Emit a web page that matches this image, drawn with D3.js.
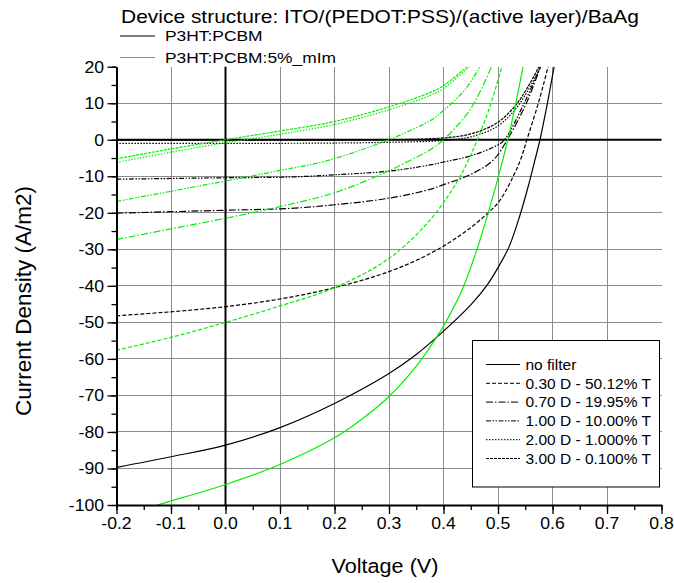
<!DOCTYPE html>
<html>
<head>
<meta charset="utf-8">
<script src="https://cdn.jsdelivr.net/npm/d3@7"></script>
<style>
  body { margin: 0; background: #fff; }
  text { font-family: Arial, "Liberation Sans", sans-serif; fill: #000; }
</style>
</head>
<body>
<svg id="chart" width="674" height="583"></svg>
<script>
// ---- data: J–V curves, voltage (V) vs current density (A/m2) ----
const voltageTicks = [-0.2, -0.1, 0, 0.1, 0.2, 0.3, 0.4, 0.5, 0.6, 0.7, 0.8];
const currentTicks = [-100, -90, -80, -70, -60, -50, -40, -30, -20, -10, 0, 10, 20];

const filterLabels = [
  "no filter",
  "0.30 D - 50.12% T",
  "0.70 D - 19.95% T",
  "1.00 D - 10.00% T",
  "2.00 D - 1.000% T",
  "3.00 D - 0.100% T"
];
const materialLabels = ["P3HT:PCBM", "P3HT:PCBM:5%_mIm"];

// P3HT:PCBM
const pcbmNoFilter = [[-0.2,-89.7],[-0.1,-86.8],[0,-83.6],[0.1,-78.8],[0.2,-72.2],[0.3,-64],[0.35,-58.8],[0.4,-52.4],[0.45,-45.2],[0.48,-39.8],[0.5,-35],[0.52,-29.4],[0.54,-20.8],[0.555,-13],[0.567,-6],[0.577,0],[0.59,9.5],[0.603,20]];
const pcbm030 = [[-0.2,-48.2],[-0.1,-47.1],[0,-45.7],[0.1,-43.6],[0.2,-40.5],[0.3,-36.1],[0.375,-31.2],[0.436,-25.6],[0.482,-20],[0.504,-16.5],[0.528,-10],[0.542,-5.2],[0.553,0],[0.574,10],[0.592,20]];
const pcbm070 = [[-0.2,-20.1],[-0.1,-19.7],[0,-19.3],[0.118,-18.8],[0.2,-17.8],[0.3,-16],[0.375,-13.6],[0.4,-12.3],[0.45,-9.5],[0.491,-5.6],[0.517,0],[0.552,10],[0.578,20]];
const pcbm100 = [[-0.2,-10.8],[-0.1,-10.6],[0,-10.4],[0.118,-10.2],[0.2,-9.6],[0.3,-8.6],[0.375,-6.9],[0.4,-6.1],[0.45,-4.4],[0.5,-1.4],[0.512,0],[0.548,10],[0.578,20]];
const pcbm200 = [[-0.2,-1],[0,-1],[0.2,-0.9],[0.3,-0.7],[0.4,-0.2],[0.45,0.8],[0.497,3.5],[0.53,8],[0.555,13.5],[0.578,20]];
const pcbm300 = [[-0.2,-0.15],[0.2,-0.1],[0.3,0],[0.4,0.5],[0.45,1.6],[0.497,4.5],[0.53,9],[0.555,14.5],[0.575,20]];

// P3HT:PCBM:5%_mIm
const mimNoFilter = [[-0.125,-100],[-0.1,-98.9],[0,-94.4],[0.1,-88.9],[0.2,-81.6],[0.25,-76.5],[0.3,-70.3],[0.35,-62],[0.384,-54.8],[0.4,-51],[0.433,-41.5],[0.461,-30.2],[0.482,-20],[0.5,-10.5],[0.518,0],[0.532,9.5],[0.546,20]];
const mim030 = [[-0.2,-57.6],[-0.1,-54.1],[0,-50],[0.1,-45.5],[0.2,-40.5],[0.3,-32.5],[0.375,-22],[0.427,-11],[0.446,-5.5],[0.462,0],[0.485,9],[0.507,20]];
const mim070 = [[-0.2,-27.3],[-0.1,-24.4],[0,-21.5],[0.1,-18.3],[0.2,-14.5],[0.3,-8.5],[0.326,-6.6],[0.375,-2.8],[0.4,0],[0.45,8.5],[0.488,20]];
const mim100 = [[-0.2,-16.9],[-0.1,-14.1],[0,-11.3],[0.1,-8.4],[0.19,-5.6],[0.3,0],[0.322,1.4],[0.375,5.2],[0.4,8],[0.44,13.8],[0.467,20]];
const mim200 = [[-0.2,-6.2],[-0.1,-3.4],[0,-0.8],[0.1,1.5],[0.2,4.2],[0.3,8.2],[0.375,12.1],[0.4,14],[0.447,20]];
const mim300 = [[-0.2,-5.2],[-0.1,-2.5],[0,0],[0.1,2.4],[0.2,5],[0.3,9],[0.375,12.9],[0.4,14.8],[0.443,20]];

const pcbmSeries = [pcbmNoFilter, pcbm030, pcbm070, pcbm100, pcbm200, pcbm300];
const mimSeries  = [mimNoFilter, mim030, mim070, mim100, mim200, mim300];

// ---- styling ----
const materialColors = ["#000000", "#00f000"];
const filterDashes = ["none", "4,2", "7,2,1.5,2", "5,1.5,1.5,1.5,1.5,1.5", "1.5,1.5", "3,1"];

const svg = d3.select("#chart");
const plotL = 116.5, plotR = 661.5, plotT = 66.7, plotB = 505;

const x = d3.scaleLinear().domain([-0.2, 0.8]).range([plotL, plotR]);
const y = d3.scaleLinear().domain([-100, 20]).range([plotB, plotT]);

// text with a slight horizontal stretch
function stretched(g, px, py, str, size, k, anchor) {
  return g.append("g").attr("transform", `translate(${px},${py}) scale(${k},1)`)
    .append("text").attr("font-size", size).attr("text-anchor", anchor || "start").text(str);
}

// grid
const grid = svg.append("g").attr("stroke", "#8c8c8c").attr("stroke-width", 1).attr("shape-rendering", "crispEdges");
grid.selectAll("line.v").data(voltageTicks.filter(v => v > -0.2 && v < 0.8 && v !== 0))
  .join("line").attr("class", "v").attr("x1", d => x(d)).attr("x2", d => x(d)).attr("y1", plotT).attr("y2", plotB);
grid.selectAll("line.h").data(currentTicks.filter(c => c > -100 && c < 20 && c !== 0))
  .join("line").attr("class", "h").attr("x1", plotL).attr("x2", plotR).attr("y1", d => y(d)).attr("y2", d => y(d));

// zero lines
svg.append("line").attr("x1", x(0)).attr("x2", x(0)).attr("y1", plotT).attr("y2", plotB)
  .attr("stroke", "#000").attr("stroke-width", 2);
svg.append("line").attr("x1", plotL).attr("x2", plotR).attr("y1", y(0)).attr("y2", y(0))
  .attr("stroke", "#000").attr("stroke-width", 2);

// curves
svg.append("clipPath").attr("id", "plotClip").append("rect")
  .attr("x", plotL).attr("y", plotT).attr("width", plotR - plotL).attr("height", plotB - plotT);
const line = d3.line().x(d => x(d[0])).y(d => y(d[1])).curve(d3.curveCatmullRom.alpha(0.5));
const curves = svg.append("g").attr("clip-path", "url(#plotClip)").attr("fill", "none");
[pcbmSeries, mimSeries].forEach((group, m) => {
  group.forEach((pts, i) => {
    curves.append("path").attr("d", line(pts))
      .attr("stroke", materialColors[m]).attr("stroke-width", 1.2)
      .attr("stroke-dasharray", filterDashes[i]);
  });
});

// axes
const minorX = d3.range(-0.2, 0.8001, 0.05).map(v => +v.toFixed(2));
const minorY = d3.range(-100, 20.001, 5);
const xAxis = svg.append("g").attr("transform", `translate(0,${plotB})`);
xAxis.call(d3.axisBottom(x).tickValues(minorX).tickSize(5).tickFormat("").tickSizeOuter(0));
xAxis.call(g => g.select(".domain").remove());
const xMajor = svg.append("g").attr("transform", `translate(0,${plotB})`)
  .call(d3.axisBottom(x).tickValues(voltageTicks).tickSize(9).tickFormat("").tickSizeOuter(0));
xMajor.select(".domain").attr("stroke-width", 2);
const yAxis = svg.append("g").attr("transform", `translate(${plotL},0)`);
yAxis.call(d3.axisLeft(y).tickValues(minorY).tickSize(5).tickFormat("").tickSizeOuter(0));
yAxis.call(g => g.select(".domain").remove());
const yMajor = svg.append("g").attr("transform", `translate(${plotL},0)`)
  .call(d3.axisLeft(y).tickValues(currentTicks).tickSize(9).tickFormat("").tickSizeOuter(0));
yMajor.select(".domain").attr("stroke-width", 2);
svg.selectAll(".tick line").attr("stroke-width", 1.3);

// tick labels
const labels = svg.append("g");
voltageTicks.forEach(v => stretched(labels, x(v), 529, d3.format(".1f")(v).replace("−", "-"), 16, 1.1, "middle"));
currentTicks.forEach(c => stretched(labels, 104, y(c) + 5.8, String(c), 16, 1.1, "end"));

// axis titles
stretched(svg, 385, 573, "Voltage (V)", 21, 1.03, "middle");
svg.append("text").attr("transform", `translate(31,301) rotate(-90)`)
  .attr("font-size", 22.5).attr("text-anchor", "middle").text("Current Density (A/m2)");

// title and material key
stretched(svg, 121, 23, "Device structure: ITO/(PEDOT:PSS)/(active layer)/BaAg", 18, 1.165);
materialLabels.forEach((lab, m) => {
  const yy = 36 + m * 21.5;
  svg.append("line").attr("x1", 120).attr("x2", 155).attr("y1", yy).attr("y2", yy)
    .attr("stroke", materialColors[m]).attr("stroke-width", 1.2);
  stretched(svg, 165, yy + 5.3, lab, 14.5, 1.2);
});

// filter legend
svg.append("rect").attr("x", 472.5).attr("y", 340.5).attr("width", 187).attr("height", 146.5)
  .attr("fill", "#fff").attr("stroke", "#000").attr("stroke-width", 1);
filterLabels.forEach((lab, i) => {
  const yy = 364.5 + i * 18.8;
  svg.append("line").attr("x1", 486).attr("x2", 520).attr("y1", yy).attr("y2", yy)
    .attr("stroke", "#000").attr("stroke-width", 1).attr("stroke-dasharray", filterDashes[i]);
  stretched(svg, 525.5, yy + 5.2, lab, 14.5, 1.07);
});
</script>
</body>
</html>
